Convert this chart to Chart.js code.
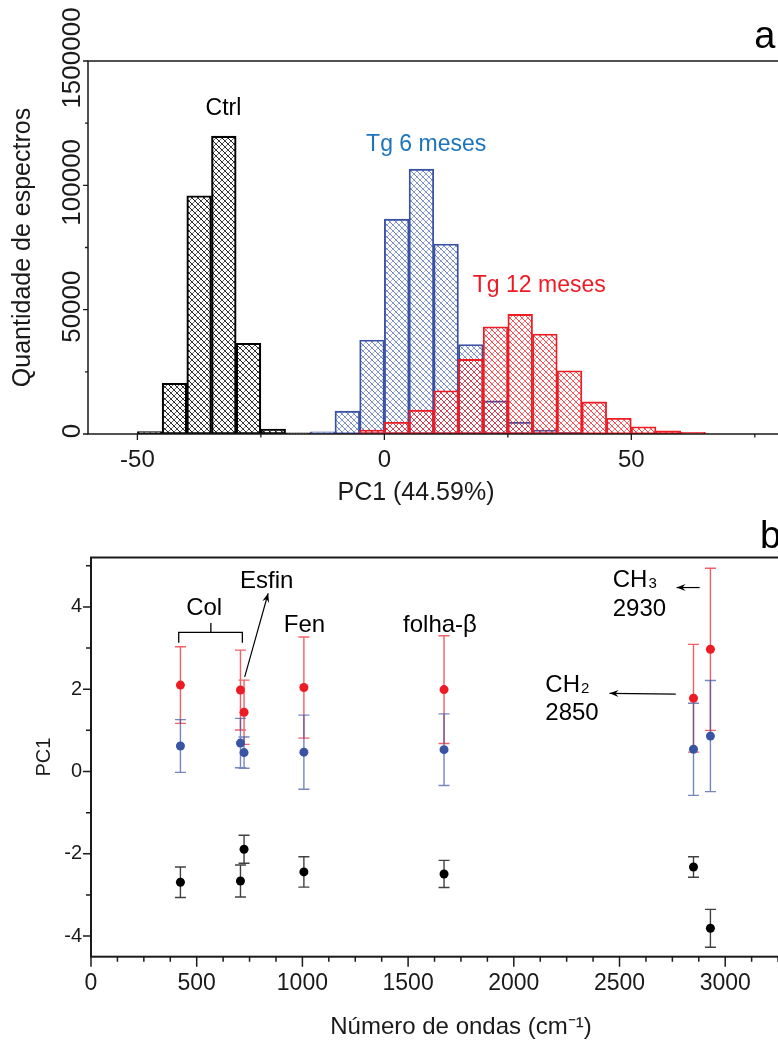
<!DOCTYPE html>
<html lang="pt">
<head>
<meta charset="utf-8">
<title>PC1 - histogramas e bandas</title>
<script src="https://cdn.jsdelivr.net/npm/chart.js@4.4.1/dist/chart.umd.min.js"></script>
<style>
    html, body { margin: 0; padding: 0; background: #fff; overflow: hidden; width: 778px; height: 1042px; }
    canvas { position: absolute; left: 0; }
    #graficoA { top: 0; }
    #graficoB { top: 520px; }
</style>
</head>
<body>
<canvas id="graficoA" width="860" height="520"></canvas>
<canvas id="graficoB" width="860" height="522"></canvas>
<script>
// ---------- Painel a: histogramas de PC1 (classes de 5 unidades) ----------
const inicioClasses = [-60, -55, -50, -45, -40, -35, -30, -25, -20, -15, -10, -5, 0, 5,
                       10, 15, 20, 25, 30, 35, 40, 45, 50, 55, 60, 65, 70, 75];
const contagemCtrl = [0, 0, 1000, 20400, 95800, 119800, 36500, 2000, 500, 0, 0, 0, 0, 0,
                      0, 0, 0, 0, 0, 0, 0, 0, 0, 0, 0, 0, 0, 0];
const contagemTg6 = [0, 0, 0, 0, 0, 0, 0, 0, 0, 900, 9200, 37800, 86400, 106500,
                     76400, 36000, 13300, 4700, 1600, 700, 0, 0, 0, 0, 0, 0, 0, 0];
const contagemTg12 = [0, 0, 0, 0, 0, 0, 0, 0, 0, 0, 200, 1600, 4700, 9600,
                      17400, 30000, 43100, 48100, 40200, 25400, 12900, 6300, 2900, 1300, 700, 0, 0, 0];

const ticksXa = [-50, 0, 50];
const rotulosXa = ['-50', '0', '50'];
const menoresXa = [-25, 25, 75];
const ticksYa = [0, 50000, 100000, 150000];
const rotulosYa = ['0', '50000', '100000', '1500000'];
const menoresYa = [25000, 75000, 125000];

// ---------- Painel b: PC1 por numero de ondas ----------
const numeroOndas = [423, 707, 724, 1007, 1670, 2850, 2930];
const pc1Ctrl = [-2.69, -2.66, -1.89, -2.44, -2.49, -2.32, -3.81];
const erroCtrl = [0.37, 0.39, 0.34, 0.37, 0.33, 0.25, 0.46];
const pc1Tg6 = [0.62, 0.69, 0.46, 0.47, 0.53, 0.54, 0.86];
const erroTg6 = [0.64, 0.60, 0.38, 0.90, 0.87, 1.12, 1.35];
const pc1Tg12 = [2.10, 1.98, 1.44, 2.04, 1.99, 1.78, 2.97];
const erroTg12 = [0.93, 0.97, 0.78, 1.23, 1.31, 1.31, 1.97];

const ticksXb = [0, 500, 1000, 1500, 2000, 2500, 3000, 3500];
const rotulosXb = ['0', '500', '1000', '1500', '2000', '2500', '3000', '3500'];
const menoresXb = [125, 250, 375, 625, 750, 875, 1125, 1250, 1375, 1625, 1750, 1875,
                   2125, 2250, 2375, 2625, 2750, 2875, 3125, 3250, 3375];
const ticksYb = [-4, -2, 0, 2, 4];
const rotulosYb = ['-4', '-2', '0', '2', '4'];
const menoresYb = [-3, -1, 1, 3, 5];

const FONTE = '"Liberation Sans", Arial, Helvetica, sans-serif';
const PRETO = '#1a1a1a';

// Padrão de hachura cruzada para as barras
function hachura(rgb, alfa1, alfa2) {
    const t = document.createElement('canvas');
    t.width = 6;
    t.height = 6;
    const c = t.getContext('2d');
    c.lineWidth = 1;
    c.strokeStyle = `rgba(${rgb},${alfa1})`;
    c.beginPath();
    c.moveTo(-1, -1); c.lineTo(7, 7);
    c.moveTo(-1, 5); c.lineTo(1, 7);
    c.moveTo(5, -1); c.lineTo(7, 1);
    c.stroke();
    c.strokeStyle = `rgba(${rgb},${alfa2})`;
    c.beginPath();
    c.moveTo(-1, 7); c.lineTo(7, -1);
    c.moveTo(-1, 1); c.lineTo(1, -1);
    c.moveTo(5, 7); c.lineTo(7, 5);
    c.stroke();
    return c.createPattern(t, 'repeat');
}

// Moldura do gráfico e marcas de escala (maiores e menores, para fora)
function pluginMoldura(cfg) {
    return {
        id: 'moldura',
        afterDraw(chart) {
            const ctx = chart.ctx;
            const a = chart.chartArea;
            const sx = chart.scales[cfg.eixoX];
            const sy = chart.scales[cfg.eixoY];
            ctx.save();
            ctx.strokeStyle = PRETO;
            ctx.lineWidth = cfg.espessura;
            ctx.strokeRect(a.left, a.top, a.right - a.left, a.bottom - a.top);

            ctx.lineWidth = cfg.espessuraTick;
            ctx.beginPath();
            cfg.xMaiores.forEach(v => {
                const p = sx.getPixelForValue(v);
                ctx.moveTo(p, a.bottom); ctx.lineTo(p, a.bottom + cfg.tickX[0]);
            });
            cfg.xMenores.forEach(v => {
                const p = sx.getPixelForValue(v);
                ctx.moveTo(p, a.bottom); ctx.lineTo(p, a.bottom + cfg.tickX[1]);
            });
            cfg.yMaiores.forEach(v => {
                const p = sy.getPixelForValue(v);
                ctx.moveTo(a.left, p); ctx.lineTo(a.left - cfg.tickY[0], p);
            });
            cfg.yMenores.forEach(v => {
                const p = sy.getPixelForValue(v);
                ctx.moveTo(a.left, p); ctx.lineTo(a.left - cfg.tickY[1], p);
            });
            ctx.stroke();

            // rótulos do eixo y na vertical (painel a)
            if (cfg.rotulosYVerticais) {
                ctx.fillStyle = PRETO;
                ctx.font = '26px ' + FONTE;
                ctx.textAlign = 'center';
                ctx.textBaseline = 'alphabetic';
                cfg.yMaiores.forEach((v, i) => {
                    const p = sy.getPixelForValue(v);
                    ctx.save();
                    ctx.translate(a.left - 8, p - 3);
                    ctx.rotate(-Math.PI / 2);
                    ctx.fillText(cfg.rotulosYVerticais[i], 0, 0);
                    ctx.restore();
                });
            }
            ctx.restore();
        }
    };
}

function flecha(ctx, x1, y1, x2, y2) {
    ctx.beginPath();
    ctx.moveTo(x1, y1);
    ctx.lineTo(x2, y2);
    ctx.stroke();
    const ang = Math.atan2(y2 - y1, x2 - x1);
    const c = Math.cos(ang), s = Math.sin(ang);
    const L = 9, W = 3.5;
    ctx.beginPath();
    ctx.moveTo(x2, y2);
    ctx.lineTo(x2 - L * c + W * s, y2 - L * s - W * c);
    ctx.lineTo(x2 - L * 0.65 * c, y2 - L * 0.65 * s);
    ctx.lineTo(x2 - L * c - W * s, y2 - L * s + W * c);
    ctx.closePath();
    ctx.fill();
}

// Textos do painel a
const anotacoesA = {
    id: 'anotacoesA',
    afterDraw(chart) {
        const ctx = chart.ctx;
        const a = chart.chartArea;
        const sx = chart.scales.xLin, sy = chart.scales.y;
        const X = v => sx.getPixelForValue(v), Y = v => sy.getPixelForValue(v);
        ctx.save();
        ctx.textAlign = 'left';
        ctx.textBaseline = 'alphabetic';
        ctx.font = '23px ' + FONTE;
        ctx.fillStyle = '#000';
        ctx.fillText('Ctrl', X(-36.2), Y(128300));
        ctx.fillStyle = '#1b75bc';
        ctx.fillText('Tg 6 meses', X(-3.7), Y(114000));
        ctx.fillStyle = '#ed1c24';
        ctx.fillText('Tg 12 meses', X(17.9), Y(57200));
        ctx.fillStyle = '#000';
        ctx.font = '38px ' + FONTE;
        ctx.fillText('a', X(74.9), Y(155100));

        // título do eixo x (um pouco à esquerda do centro, como no original)
        ctx.fillStyle = PRETO;
        ctx.font = '25px ' + FONTE;
        ctx.textAlign = 'center';
        ctx.fillText('PC1 (44.59%)', X(6.4), a.bottom + 66);
        ctx.restore();
    }
};

// Barras de erro do painel b
const barrasErro = {
    id: 'barrasErro',
    beforeDatasetsDraw(chart) {
        const ctx = chart.ctx;
        const sx = chart.scales.x, sy = chart.scales.y;
        ctx.save();
        ctx.lineWidth = 1.4;
        chart.data.datasets.forEach(ds => {
            ctx.strokeStyle = ds.corErro;
            ctx.beginPath();
            ds.data.forEach((p, i) => {
                const px = sx.getPixelForValue(p.x);
                const yt = sy.getPixelForValue(p.y + ds.erros[i]);
                const yb = sy.getPixelForValue(p.y - ds.erros[i]);
                ctx.moveTo(px, yt); ctx.lineTo(px, yb);
                ctx.moveTo(px - 5.5, yt); ctx.lineTo(px + 5.5, yt);
                ctx.moveTo(px - 5.5, yb); ctx.lineTo(px + 5.5, yb);
            });
            ctx.stroke();
        });
        ctx.restore();
    }
};

// Textos e setas do painel b
const anotacoesB = {
    id: 'anotacoesB',
    afterDraw(chart) {
        const ctx = chart.ctx;
        const sx = chart.scales.x, sy = chart.scales.y;
        const X = v => sx.getPixelForValue(v), Y = v => sy.getPixelForValue(v);
        ctx.save();
        ctx.fillStyle = '#000';
        ctx.strokeStyle = '#000';
        ctx.textAlign = 'left';
        ctx.textBaseline = 'alphabetic';
        ctx.font = '24px ' + FONTE;
        ctx.fillText('Col', X(450), Y(3.80));
        ctx.fillText('Esfin', X(705), Y(4.45));
        ctx.fillText('Fen', X(912), Y(3.39));
        ctx.fillText('folha-\u03b2', X(1476), Y(3.39));

        // chave do "Col"
        ctx.lineWidth = 1.3;
        ctx.beginPath();
        ctx.moveTo(X(415), Y(3.13)); ctx.lineTo(X(415), Y(3.38));
        ctx.lineTo(X(716), Y(3.38)); ctx.lineTo(X(716), Y(3.13));
        ctx.moveTo(X(567), Y(3.38)); ctx.lineTo(X(567), Y(3.61));
        ctx.stroke();

        ctx.lineWidth = 1.2;
        flecha(ctx, X(727), Y(2.30), X(838), Y(4.33));
        flecha(ctx, X(2879), Y(4.47), X(2770), Y(4.47));
        flecha(ctx, X(2766), Y(1.88), X(2453), Y(1.90));

        // CH3 / CH2 com subscrito
        const comSubscrito = (base, sub, x, y) => {
            ctx.font = '24px ' + FONTE;
            ctx.fillText(base, x, y);
            const w = ctx.measureText(base).width;
            ctx.font = '15px ' + FONTE;
            ctx.fillText(sub, x + w + 1, y + 1);
        };
        comSubscrito('CH', '3', X(2468), Y(4.48));
        ctx.font = '24px ' + FONTE;
        ctx.fillText('2930', X(2468), Y(3.77));
        comSubscrito('CH', '2', X(2149), Y(1.94));
        ctx.font = '24px ' + FONTE;
        ctx.fillText('2850', X(2149), Y(1.24));

        ctx.font = '38px ' + FONTE;
        ctx.fillText('b', X(3164), Y(5.42));
        ctx.restore();
    }
};

// ---------- Gráfico a ----------
new Chart(document.getElementById('graficoA'), {
    type: 'bar',
    data: {
        labels: inicioClasses.map(String),
        datasets: [
            {
                label: 'Tg 12 meses',
                data: contagemTg12,
                backgroundColor: hachura('237,28,36', 0.85, 0.55),
                borderColor: '#ed1c24',
                borderWidth: 1.2,
                order: 1
            },
            {
                label: 'Tg 6 meses',
                data: contagemTg6,
                backgroundColor: hachura('58,84,164', 0.75, 0.45),
                borderColor: '#3a52a3',
                borderWidth: 1.2,
                order: 2
            },
            {
                label: 'Ctrl',
                data: contagemCtrl,
                backgroundColor: hachura('0,0,0', 0.9, 0.6),
                borderColor: '#000',
                borderWidth: 1.5,
                order: 3
            }
        ]
    },
    options: {
        responsive: false,
        animation: false,
        devicePixelRatio: 1,
        layout: { padding: { top: 61, right: 80.5, left: 0, bottom: 0 } },
        plugins: { legend: { display: false }, tooltip: { enabled: false } },
        datasets: {
            bar: { barPercentage: 1, categoryPercentage: 1, grouped: false, borderSkipped: false }
        },
        scales: {
            x: { type: 'category', display: false, offset: true },
            xLin: {
                type: 'linear',
                position: 'bottom',
                offset: false,
                min: -60,
                max: 80,
                afterBuildTicks: s => { s.ticks = ticksXa.map(v => ({ value: v })); },
                afterFit: s => { s.height = 86; },
                grid: { display: false, offset: false, drawTicks: true, tickLength: 6 },
                border: { display: false },
                ticks: {
                    autoSkip: false,
                    maxRotation: 0,
                    padding: 6,
                    color: PRETO,
                    font: { family: FONTE, size: 24 },
                    callback: v => rotulosXa[ticksXa.indexOf(v)]
                }
            },
            y: {
                min: 0,
                max: 150000,
                afterBuildTicks: s => { s.ticks = ticksYa.map(v => ({ value: v })); },
                afterFit: s => { s.width = 88; },
                grid: { display: false },
                border: { display: false },
                ticks: { display: false },
                title: {
                    display: true,
                    text: 'Quantidade de espectros',
                    color: PRETO,
                    font: { family: FONTE, size: 25 },
                    padding: { top: 8, bottom: 0 }
                }
            }
        }
    },
    plugins: [
        pluginMoldura({
            eixoX: 'xLin', eixoY: 'y', espessura: 1.5, espessuraTick: 1.3,
            xMaiores: ticksXa, xMenores: menoresXa, tickX: [6, 3.5],
            yMaiores: ticksYa, yMenores: menoresYa, tickY: [5, 3],
            rotulosYVerticais: rotulosYa
        }),
        anotacoesA
    ]
});

// ---------- Gráfico b ----------
const pontos = ys => numeroOndas.map((x, i) => ({ x: x, y: ys[i] }));

new Chart(document.getElementById('graficoB'), {
    type: 'scatter',
    data: {
        datasets: [
            {
                label: 'Tg 12 meses',
                data: pontos(pc1Tg12),
                erros: erroTg12,
                corErro: 'rgba(237,28,36,0.7)',
                backgroundColor: '#ed1c24'
            },
            {
                label: 'Tg 6 meses',
                data: pontos(pc1Tg6),
                erros: erroTg6,
                corErro: 'rgba(58,84,164,0.7)',
                backgroundColor: '#3a54a4'
            },
            {
                label: 'Ctrl',
                data: pontos(pc1Ctrl),
                erros: erroCtrl,
                corErro: 'rgba(0,0,0,0.75)',
                backgroundColor: '#000'
            }
        ]
    },
    options: {
        responsive: false,
        animation: false,
        devicePixelRatio: 1,
        layout: { padding: { top: 37.5, right: 23.8, left: 0, bottom: 0 } },
        plugins: { legend: { display: false }, tooltip: { enabled: false } },
        elements: { point: { radius: 4.5, borderWidth: 0, hoverRadius: 4.5 } },
        scales: {
            x: {
                type: 'linear',
                min: 0,
                max: 3500,
                afterBuildTicks: s => { s.ticks = ticksXb.map(v => ({ value: v })); },
                afterFit: s => { s.height = 85.3; },
                grid: { display: false, drawTicks: true, tickLength: 10 },
                border: { display: false },
                ticks: {
                    autoSkip: false,
                    maxRotation: 0,
                    padding: 3.5,
                    color: PRETO,
                    font: { family: FONTE, size: 23 },
                    callback: v => rotulosXb[ticksXb.indexOf(v)]
                },
                title: {
                    display: true,
                    text: 'Número de ondas (cm\u207b\u00b9)',
                    color: PRETO,
                    font: { family: FONTE, size: 24 },
                    padding: { top: 0, bottom: 0 }
                }
            },
            y: {
                min: -4.5,
                max: 5.2,
                afterBuildTicks: s => { s.ticks = ticksYb.map(v => ({ value: v })); },
                afterFit: s => { s.width = 91; },
                grid: { display: false, drawTicks: true, tickLength: 8 },
                border: { display: false },
                ticks: {
                    padding: 1,
                    color: PRETO,
                    font: { family: FONTE, size: 20 },
                    callback: v => rotulosYb[ticksYb.indexOf(v)]
                },
                title: {
                    display: true,
                    text: 'PC1',
                    color: PRETO,
                    font: { family: FONTE, size: 20 },
                    padding: { top: 32, bottom: 0 }
                }
            }
        }
    },
    plugins: [
        barrasErro,
        pluginMoldura({
            eixoX: 'x', eixoY: 'y', espessura: 2, espessuraTick: 1.5,
            xMaiores: ticksXb, xMenores: menoresXb, tickX: [10, 5],
            yMaiores: ticksYb, yMenores: menoresYb, tickY: [8, 5]
        }),
        anotacoesB
    ]
});
</script>
</body>
</html>
